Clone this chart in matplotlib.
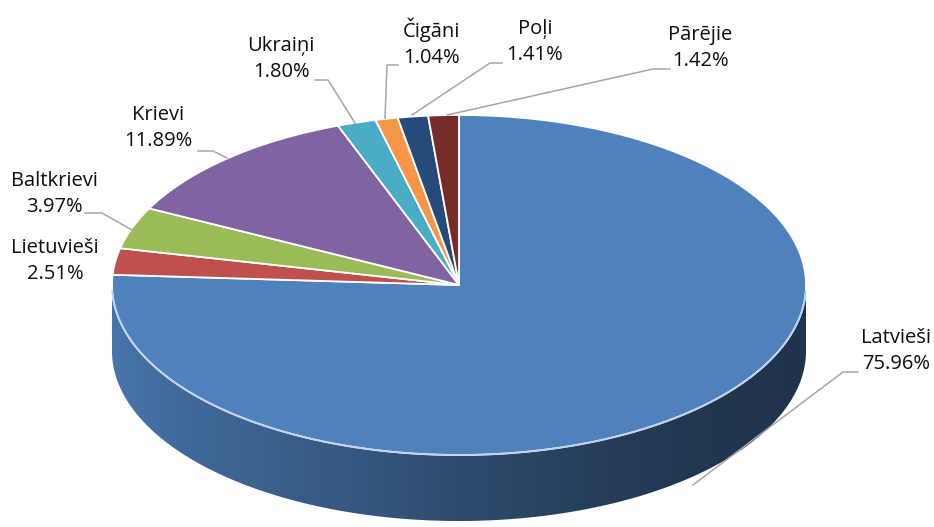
import numpy as np
import matplotlib
matplotlib.use("Agg")
import matplotlib.pyplot as plt
from matplotlib.patches import Polygon

plt.rcParams['font.family'] = ['Open Sans', 'DejaVu Sans']

# data (clockwise from 12 o'clock)
labels = ["Latvieši", "Lietuvieši", "Baltkrievi", "Krievi", "Ukraiņi", "Čigāni", "Poļi", "Pārējie"]
shares = [75.96, 2.51, 3.97, 11.89, 1.80, 1.04, 1.41, 1.42]
colors = ["#4F81BD", "#C0504D", "#9BBB59", "#8064A2", "#4BACC6", "#F79646", "#264B78", "#772C2A"]

# label centres and leader lines (pixel coords)
label_pos = [(896, 351), (55, 261), (54, 194), (158, 128), (281, 59), (431, 43), (535, 42), (700, 48)]
leaders = [
    [(858, 372), (843, 372), (693, 485)],
    None,
    [(85, 213), (102, 213), (132, 230)],
    [(198, 151), (213, 151), (227, 158)],
    [(315, 80), (328, 80), (355, 123)],
    [(398, 65), (387, 65), (385, 118)],
    [(502, 63), (490, 63), (412, 115)],
    [(670, 69), (653, 69), (447, 115)],
]

cx, cy, rx, ry, depth = 459, 285, 347, 170, 66


def pt(theta_deg, dy=0.0):
    t = np.radians(theta_deg)
    return cx + rx * np.sin(t), cy - ry * np.cos(t) + dy


fig = plt.figure(figsize=(9.34, 5.27), dpi=100)
ax = fig.add_axes([0, 0, 1, 1])
ax.set_xlim(0, 934)
ax.set_ylim(527, 0)
ax.axis("off")

edges = np.concatenate([[0], np.cumsum(shares)]) / sum(shares) * 360.0

# brightness of the side wall across x: lighter left, dark right
xcols = np.arange(0, 934)
fac = np.interp(xcols, [112, 200, 330, 459, 600, 700, 806], [0.90, 0.80, 0.70, 0.58, 0.48, 0.42, 0.40])

# side walls (front half only: 90..270 deg)
for i, c in enumerate(colors):
    a0, a1 = max(edges[i], 90), min(edges[i + 1], 270)
    if a1 <= a0:
        continue
    angs = np.linspace(a0, a1, 300)
    top = [pt(a) for a in angs]
    bot = [pt(a, depth) for a in angs[::-1]]
    side = Polygon(top + bot, closed=True, fc="none", ec="none")
    ax.add_patch(side)
    rgb = np.array(matplotlib.colors.to_rgb(c))
    img = np.clip(fac[None, :, None] * rgb[None, None, :], 0, 1)
    im = ax.imshow(img, extent=(0, 934, 527, 0), aspect="auto", zorder=1, interpolation="bilinear")
    im.set_clip_path(side)

# top face
for i, c in enumerate(colors):
    angs = np.linspace(edges[i], edges[i + 1], max(int((edges[i + 1] - edges[i]) * 2), 4))
    verts = [(cx, cy)] + [pt(a) for a in angs]
    ax.add_patch(Polygon(verts, closed=True, fc=c, ec="white", lw=1.3, zorder=2))

# light rim along the front edge of the top face
rim = np.linspace(92, 268, 200)
ax.plot([pt(a)[0] for a in rim], [pt(a)[1] for a in rim], color="#BFD3EE", lw=1.2, zorder=3)

ax.set_xlim(0, 934)
ax.set_ylim(527, 0)

# labels
for i, lab in enumerate(labels):
    x, y = label_pos[i]
    ax.text(x, y, f"{lab}\n{shares[i]:.2f}%", ha="center", va="center", fontsize=14.5,
            color="#0d0d0d", linespacing=1.4, zorder=5)
    if leaders[i]:
        xs, ys = zip(*leaders[i])
        ax.plot(xs, ys, color="#A6A6A6", lw=1.1, zorder=4)

fig.savefig("out.png", dpi=100)
